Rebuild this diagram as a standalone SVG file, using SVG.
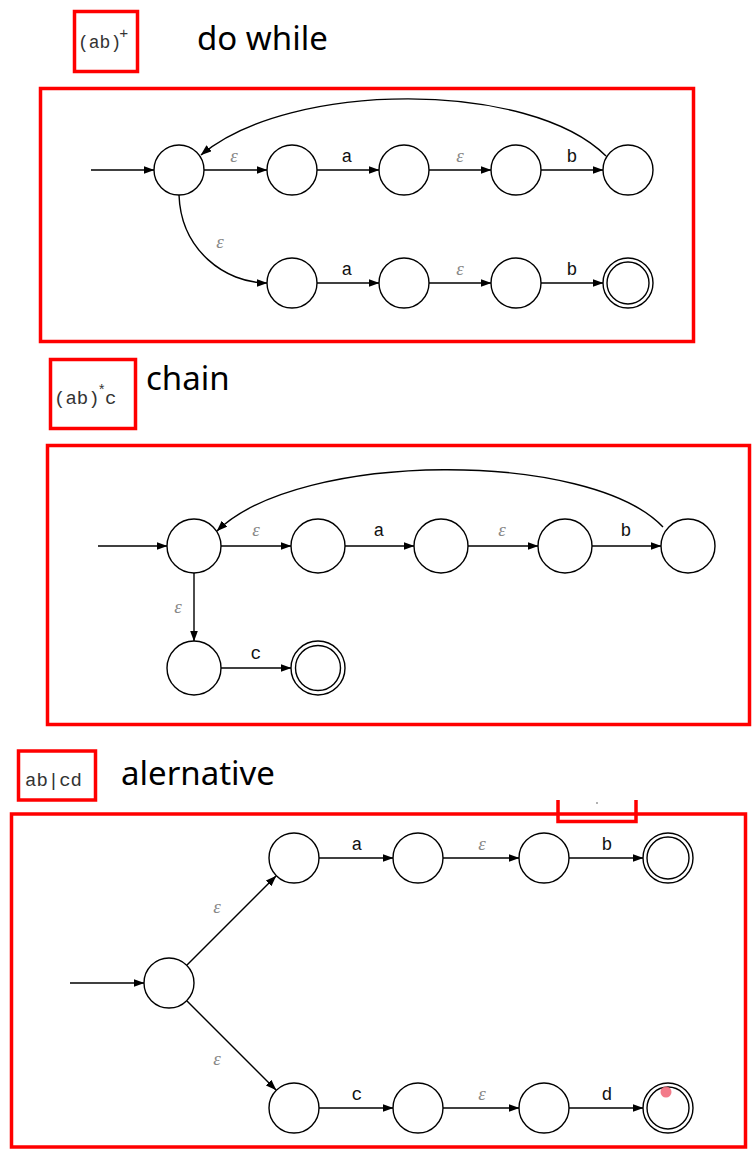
<svg xmlns="http://www.w3.org/2000/svg" width="753" height="1154" viewBox="0 0 753 1154">
<style>
.frame{fill:none;stroke:#ff0000;stroke-width:3.5}
.st{fill:#fff;stroke:#000;stroke-width:1.4}
.ea{fill:none;stroke:#000;stroke-width:1.4;marker-end:url(#ah)}
.sym{font-family:"Liberation Mono",monospace;font-size:18px;fill:#111;text-anchor:middle}
.eps{font-family:"Liberation Serif",serif;font-style:italic;font-size:19px;fill:#888;text-anchor:middle}
.title{font-family:"Noto Sans","Open Sans",sans-serif;font-size:33px;fill:#000}
.rx{font-family:"Liberation Mono",monospace;fill:#333}
</style>
<defs>
<marker id="ah" markerWidth="11" markerHeight="8" refX="10.5" refY="4" orient="auto" markerUnits="userSpaceOnUse"><path d="M0,0 L11,4 L0,8 z" fill="#000"/></marker>
</defs>

<!-- Section 1 header -->
<g id="hdr1">
<rect class="frame" x="74.5" y="11.5" width="63" height="60"/>
<text class="rx" x="78" y="48" font-size="18">(ab)<tspan font-size="15" dy="-10" dx="-2">+</tspan></text>
<text class="title" x="197" y="50" font-size="32">do while</text>
</g>
<rect id="box1" class="frame" x="40.5" y="88.5" width="653" height="253"/>

<!-- Section 2 header -->
<g id="hdr2">
<rect class="frame" x="50.5" y="359.5" width="85" height="69"/>
<text class="rx" x="54" y="404" font-size="19">(ab)<tspan font-size="14" dy="-9" dx="-2">*</tspan><tspan dy="9" dx="-1">c</tspan></text>
<text class="title" x="146" y="390">chain</text>
</g>
<rect id="box2" class="frame" x="47.5" y="445.5" width="702" height="279"/>

<!-- Section 3 header -->
<g id="hdr3">
<rect class="frame" x="18.5" y="751" width="77" height="49"/>
<text class="rx" x="25" y="786" font-size="19">ab|cd</text>
<text class="title" x="121" y="785">alernative</text>
</g>
<rect id="box3" class="frame" x="11.5" y="814" width="734" height="333"/>
<path class="frame" d="M558,800 V821.5 H636 V800"/>
<circle cx="597" cy="803" r="1" fill="#999"/>

<!-- Connectors -->
<g id="connectors">
<!-- section 1 -->
<line class="ea" x1="91" y1="170" x2="154" y2="170"/>
<line class="ea" x1="204" y1="170" x2="267" y2="170"/>
<line class="ea" x1="317" y1="170" x2="379" y2="170"/>
<line class="ea" x1="429" y1="170" x2="491" y2="170"/>
<line class="ea" x1="541" y1="170" x2="603" y2="170"/>
<path class="ea" d="M606,156 C530,80 290,80 201,155"/>
<path class="ea" d="M179,195 C181,250 225,283 267,283"/>
<line class="ea" x1="317" y1="283" x2="379" y2="283"/>
<line class="ea" x1="429" y1="283" x2="491" y2="283"/>
<line class="ea" x1="541" y1="283" x2="603" y2="283"/>
<!-- section 2 -->
<line class="ea" x1="98" y1="546" x2="167" y2="546"/>
<line class="ea" x1="221" y1="546" x2="291" y2="546"/>
<line class="ea" x1="345" y1="546" x2="414" y2="546"/>
<line class="ea" x1="468" y1="546" x2="538" y2="546"/>
<line class="ea" x1="592" y1="546" x2="661" y2="546"/>
<path class="ea" d="M663,527 C590,450 300,450 217,531"/>
<line class="ea" x1="194" y1="573" x2="194" y2="641"/>
<line class="ea" x1="221" y1="668" x2="291" y2="668"/>
<!-- section 3 -->
<line class="ea" x1="70" y1="983" x2="144" y2="983"/>
<line class="ea" x1="187" y1="965" x2="276" y2="876"/>
<line class="ea" x1="187" y1="1001" x2="276" y2="1090"/>
<line class="ea" x1="319" y1="858" x2="393" y2="858"/>
<line class="ea" x1="443" y1="858" x2="519" y2="858"/>
<line class="ea" x1="569" y1="858" x2="643" y2="858"/>
<line class="ea" x1="319" y1="1108" x2="393" y2="1108"/>
<line class="ea" x1="443" y1="1108" x2="519" y2="1108"/>
<line class="ea" x1="569" y1="1108" x2="643" y2="1108"/>
</g>

<!-- Edge labels -->
<g id="labels">
<text class="eps" x="234" y="162">ε</text>
<text class="sym" x="347" y="162">a</text>
<text class="eps" x="460" y="162">ε</text>
<text class="sym" x="572" y="162">b</text>
<text class="eps" x="220" y="248">ε</text>
<text class="sym" x="347" y="275">a</text>
<text class="eps" x="460" y="275">ε</text>
<text class="sym" x="572" y="275">b</text>

<text class="eps" x="256" y="536">ε</text>
<text class="sym" x="379" y="536" font-size="19">a</text>
<text class="eps" x="502" y="536">ε</text>
<text class="sym" x="626" y="536" font-size="19">b</text>
<text class="eps" x="178" y="613">ε</text>
<text class="sym" x="256" y="659" font-size="19">c</text>

<text class="eps" x="217" y="913">ε</text>
<text class="eps" x="217" y="1065">ε</text>
<text class="sym" x="357" y="850">a</text>
<text class="eps" x="482" y="850">ε</text>
<text class="sym" x="607" y="850">b</text>
<text class="sym" x="357" y="1100">c</text>
<text class="eps" x="482" y="1100">ε</text>
<text class="sym" x="607" y="1100">d</text>
</g>

<!-- Section 1 nodes -->
<g id="s1n0"><circle class="st" cx="179" cy="170" r="25"/></g>
<g id="s1n1"><circle class="st" cx="292" cy="170" r="25"/></g>
<g id="s1n2"><circle class="st" cx="404" cy="170" r="25"/></g>
<g id="s1n3"><circle class="st" cx="516" cy="170" r="25"/></g>
<g id="s1n4"><circle class="st" cx="628" cy="170" r="25"/></g>
<g id="s1n5"><circle class="st" cx="292" cy="283" r="25"/></g>
<g id="s1n6"><circle class="st" cx="404" cy="283" r="25"/></g>
<g id="s1n7"><circle class="st" cx="516" cy="283" r="25"/></g>
<g id="s1n8"><circle class="st" cx="628" cy="283" r="25"/><circle class="st" cx="628" cy="283" r="21"/></g>

<!-- Section 2 nodes -->
<g id="s2n0"><circle class="st" cx="194" cy="546" r="27"/></g>
<g id="s2n1"><circle class="st" cx="318" cy="546" r="27"/></g>
<g id="s2n2"><circle class="st" cx="441" cy="546" r="27"/></g>
<g id="s2n3"><circle class="st" cx="565" cy="546" r="27"/></g>
<g id="s2n4"><circle class="st" cx="688" cy="546" r="27"/></g>
<g id="s2n5"><circle class="st" cx="194" cy="668" r="27"/></g>
<g id="s2n6"><circle class="st" cx="318" cy="668" r="27"/><circle class="st" cx="318" cy="668" r="22.5"/></g>

<!-- Section 3 nodes -->
<g id="s3n0"><circle class="st" cx="169" cy="983" r="25"/></g>
<g id="s3n1"><circle class="st" cx="294" cy="858" r="25"/></g>
<g id="s3n2"><circle class="st" cx="418" cy="858" r="25"/></g>
<g id="s3n3"><circle class="st" cx="544" cy="858" r="25"/></g>
<g id="s3n4"><circle class="st" cx="668" cy="858" r="25"/><circle class="st" cx="668" cy="858" r="21"/></g>
<g id="s3n5"><circle class="st" cx="294" cy="1108" r="25"/></g>
<g id="s3n6"><circle class="st" cx="418" cy="1108" r="25"/></g>
<g id="s3n7"><circle class="st" cx="544" cy="1108" r="25"/></g>
<g id="s3n8"><circle class="st" cx="668" cy="1108" r="25"/><circle class="st" cx="668" cy="1108" r="21"/></g>
<circle cx="666" cy="1092" r="5.5" fill="#f26d7d" opacity="0.9"/>
</svg>
